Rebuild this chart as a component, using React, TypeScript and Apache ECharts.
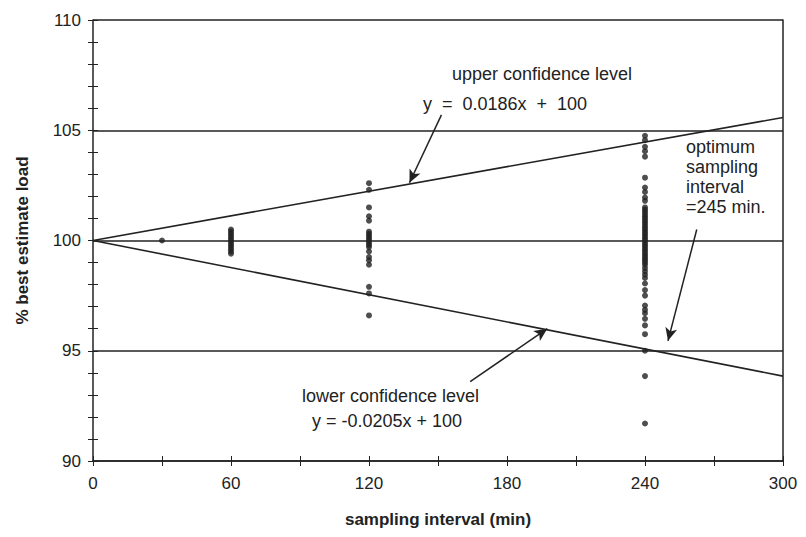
import React, { useEffect, useRef } from "react";
import * as echarts from "echarts";

const xTicks = [0, 60, 120, 180, 240, 300];
const yTicks = [90, 95, 100, 105, 110];

const x30 = [100];
const x60 = [100.5, 100.4, 100.3, 100.2, 100.1, 100.0, 99.9, 99.8, 99.7, 99.6, 99.5, 99.4];
const x120 = [102.6, 102.3, 101.5, 101.1, 100.9, 100.4, 100.3, 100.2, 100.1, 100.0, 99.9, 99.8, 99.7, 99.5, 99.25, 99.1, 98.9, 97.9, 97.6, 96.6];
const x240 = [104.75, 104.55, 104.25, 104.05, 103.8, 102.85, 102.4, 102.2, 101.95, 101.8, 101.5, 101.4, 101.3, 101.2, 101.1, 101.0, 100.9, 100.8, 100.7, 100.6, 100.5, 100.4, 100.3, 100.2, 100.1, 100.0, 99.9, 99.8, 99.7, 99.6, 99.5, 99.4, 99.3, 99.2, 99.1, 99.0, 98.9, 98.75, 98.6, 98.45, 98.3, 98.05, 97.75, 97.5, 97.05, 96.85, 96.7, 96.45, 96.15, 95.75, 95.0, 93.85, 91.7];

const upperSlope = 0.0186;
const lowerSlope = -0.0205;
const intercept = 100;
const lineX = [0, 300];

const arrows = [
  [[151.5, 105.7], [137.6, 102.62]],
  [[164, 93.6], [197.5, 96.0]],
  [[262.5, 100.5], [250, 95.45]],
];

const FONT = "'Liberation Sans', Arial, Helvetica, sans-serif";
const INK = "#222";

export default function App() {
  const ref = useRef<HTMLDivElement>(null);
  useEffect(() => {
    if (!ref.current) return;
    const chart = echarts.init(ref.current, null, { renderer: "svg" });
    const pts: number[][] = [];
    x30.forEach((v) => pts.push([30, v]));
    x60.forEach((v) => pts.push([60, v]));
    x120.forEach((v) => pts.push([120, v]));
    x240.forEach((v) => pts.push([240, v]));

    const baseY = {
      type: "value",
      min: 90,
      max: 110,
      interval: 5,
    };
    const baseX = { type: "value", min: 0, max: 300, interval: 60 };

    chart.setOption({
      animation: false,
      backgroundColor: "#fff",
      grid: { left: 93, right: 23, top: 20, bottom: 76, containLabel: false },
      xAxis: [
        {
          ...baseX,
          position: "bottom",
          name: "sampling interval (min)",
          nameLocation: "middle",
          nameGap: 50,
          nameTextStyle: { fontFamily: FONT, fontSize: 17, fontWeight: "bold", color: INK },
          axisLine: { show: true, lineStyle: { color: INK, width: 1.5 } },
          axisTick: { show: true, inside: false, length: 5, lineStyle: { color: INK } },
          minorTick: { show: true, splitNumber: 2, length: 5, lineStyle: { color: INK } },
          axisLabel: { fontFamily: FONT, fontSize: 17, color: INK, margin: 14, formatter: (v: number) => (xTicks.includes(v) ? String(v) : "") },
          splitLine: { show: false },
        },
        {
          ...baseX,
          position: "bottom",
          axisLine: { show: false },
          axisTick: { show: true, inside: true, length: 5, lineStyle: { color: INK } },
          minorTick: { show: true, splitNumber: 2, length: 5, lineStyle: { color: INK } },
          axisLabel: { show: false },
          splitLine: { show: false },
        },
      ],
      yAxis: [
        {
          ...baseY,
          position: "left",
          name: "% best estimate load",
          nameLocation: "middle",
          nameGap: 62,
          nameTextStyle: { fontFamily: FONT, fontSize: 17, fontWeight: "bold", color: INK },
          axisLine: { show: true, lineStyle: { color: INK, width: 1.5 } },
          axisTick: { show: true, inside: false, length: 5, lineStyle: { color: INK } },
          minorTick: { show: true, splitNumber: 5, length: 5, lineStyle: { color: INK } },
          axisLabel: { fontFamily: FONT, fontSize: 17, color: INK, margin: 12, formatter: (v: number) => (yTicks.includes(v) ? String(v) : "") },
          splitLine: { show: true, lineStyle: { color: INK, width: 1.5 } },
        },
        {
          ...baseY,
          position: "left",
          axisLine: { show: false },
          axisTick: { show: true, inside: true, length: 5, lineStyle: { color: INK } },
          minorTick: { show: true, splitNumber: 5, length: 5, lineStyle: { color: INK } },
          axisLabel: { show: false },
          splitLine: { show: false },
        },
        {
          ...baseY,
          position: "right",
          axisLine: { show: true, lineStyle: { color: INK, width: 1.5 } },
          axisTick: { show: false },
          axisLabel: { show: false },
          splitLine: { show: false },
        },
      ],
      series: [
        {
          type: "line",
          data: lineX.map((x) => [x, intercept + upperSlope * x]),
          symbol: "none",
          lineStyle: { color: INK, width: 1.6 },
          z: 3,
        },
        {
          type: "line",
          data: lineX.map((x) => [x, intercept + lowerSlope * x]),
          symbol: "none",
          lineStyle: { color: INK, width: 1.6 },
          z: 3,
          markLine: {
            silent: true,
            symbol: ["none", "arrow"],
            symbolSize: [9, 13],
            lineStyle: { color: INK, width: 1.5, type: "solid" },
            label: { show: false },
            data: arrows.map(([a, b]) => [{ coord: a }, { coord: b }]),
          },
        },
        {
          type: "scatter",
          data: pts,
          symbol: "circle",
          symbolSize: 6,
          itemStyle: { color: "#222" },
          z: 4,
        },
      ],
      graphic: [
        { type: "text", left: 452, top: 65, style: { text: "upper confidence level", font: `18px ${FONT}`, fill: INK } },
        { type: "text", left: 423, top: 95, style: { text: "y  =  0.0186x  +  100", font: `18px ${FONT}`, fill: INK } },
        { type: "text", left: 302, top: 387, style: { text: "lower confidence level", font: `18px ${FONT}`, fill: INK } },
        { type: "text", left: 312, top: 412, style: { text: "y = -0.0205x + 100", font: `18px ${FONT}`, fill: INK } },
        {
          type: "text",
          left: 686,
          top: 137,
          style: { text: "optimum\nsampling\ninterval\n=245 min.", font: `18px ${FONT}`, fill: INK, lineHeight: 20 },
        },
      ],
    });
    return () => chart.dispose();
  }, []);
  return <div ref={ref} style={{ width: 806, height: 537, position: "absolute", left: 0, top: 0 }} />;
}
